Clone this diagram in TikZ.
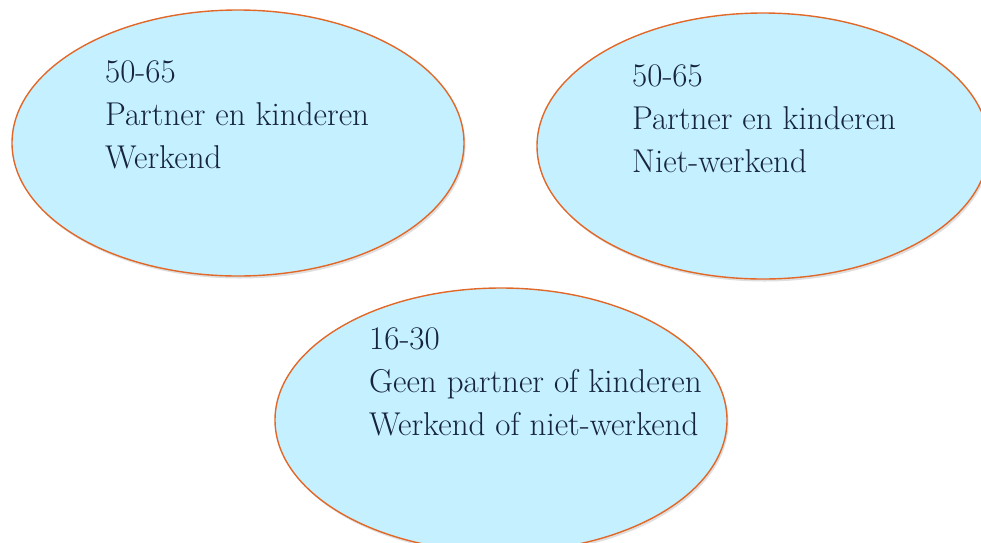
\documentclass[tikz,border=0pt]{standalone}
\usepackage{xcolor}
\usepackage{tikz}
\usetikzlibrary{shapes.geometric, shadows}
\definecolor{bubblefill}{RGB}{197,240,255}
\definecolor{bubbleline}{RGB}{226,104,40}
\definecolor{textnavy}{RGB}{22,36,62}

\begin{document}
\begin{tikzpicture}[x=1pt, y=-1pt,
    bubble/.style={ellipse, draw=bubbleline, fill=bubblefill, line width=1.4pt,
      minimum width=452pt, minimum height=266pt, inner sep=0pt,
      drop shadow={opacity=0.25, shadow xshift=1.5pt, shadow yshift=-2.5pt}},
    label/.style={anchor=base west, align=left, inner sep=0pt, text=textnavy,
      font=\fontsize{33}{43}\selectfont}
  ]
    \useasboundingbox (0,0) rectangle (981,542);
    \node[bubble] (left) at (238,143) {};
    \node[bubble] (right) at (763,146) {};
    \node[bubble, minimum height=264pt] (bottom) at (501,420) {};
    % the base anchor sits on the last line
    \node[label] (lefttext) at (105,168) {50-65\\Partner en kinderen\\Werkend};
    \node[label] (righttext) at (632,172) {50-65\\Partner en kinderen\\Niet-werkend};
    \node[label] (bottomtext) at (369,435) {16-30\\Geen partner of kinderen\\Werkend of niet-werkend};
  \end{tikzpicture}
\end{document}
